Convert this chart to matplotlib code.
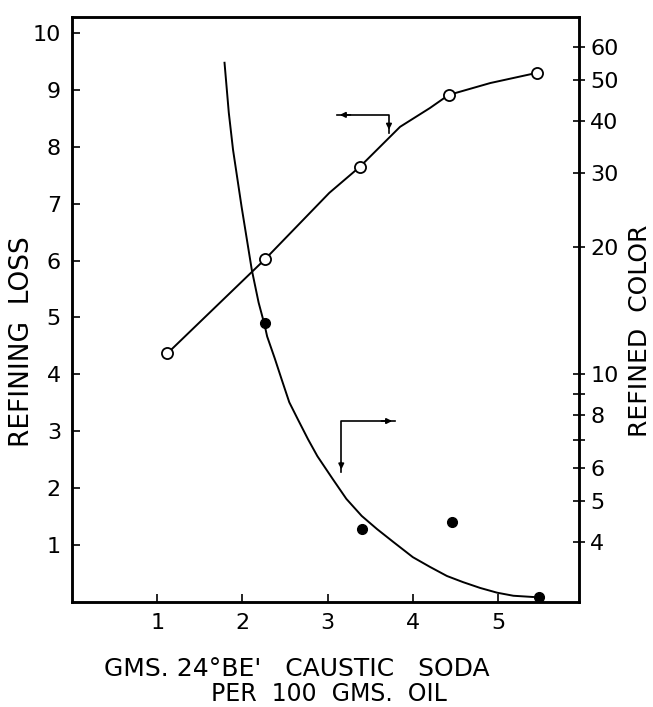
import matplotlib
matplotlib.use('Agg')
import matplotlib.pyplot as plt

# 数据: 精炼损耗 (左轴, 空心圆)
soda_loss = [1.12, 2.27, 3.38, 4.42, 5.46]
refining_loss = [4.37, 6.03, 7.65, 8.91, 9.30]
# 空心圆曲线 (读图得到的点)
loss_curve_x = [1.12, 2.27, 3.02, 3.38, 3.85, 4.20, 4.42, 4.91, 5.46]
loss_curve_y = [4.37, 6.03, 7.19, 7.65, 8.35, 8.68, 8.91, 9.12, 9.30]

# 数据: 精炼色度 (右轴, 实心圆, 对数刻度)
soda_color = [2.26, 3.40, 4.46, 5.48]
refined_color = [13.2, 4.30, 4.46, 2.96]
# 实心圆曲线 (读图得到的点)
color_curve_x = [1.79, 1.84, 1.89, 1.99, 2.11, 2.19, 2.26, 2.29, 2.38,
                 2.46, 2.55, 2.65, 2.77, 2.88, 3.06, 3.22, 3.40, 3.58,
                 3.77, 4.00, 4.20, 4.40, 4.59, 4.79, 4.99, 5.18, 5.41]
color_curve_y = [54.9, 41.8, 34.1, 25.0, 17.7, 14.8, 13.1, 12.3, 10.9,
                 9.73, 8.58, 7.82, 7.01, 6.39, 5.64, 5.06, 4.61, 4.29,
                 4.00, 3.68, 3.49, 3.32, 3.21, 3.11, 3.03, 2.98, 2.96]

# 刻度
x_ticks = [1, 2, 3, 4, 5]
left_ticks = [1, 2, 3, 4, 5, 6, 7, 8, 9, 10]
right_ticks = [4, 5, 6, 7, 8, 9, 10, 20, 30, 40, 50, 60]
right_labels = ['4', '5', '6', '', '8', '', '10', '20', '30', '40', '50', '60']

plt.rcParams['font.family'] = ['DejaVu Sans']

# 1. 创建画布
fig = plt.figure(figsize=(6.53, 7.07), dpi=100)
ax = fig.add_axes([72 / 653, 1 - 602 / 707, (579 - 72) / 653, (602 - 17) / 707])
ax2 = ax.twinx()

# 2. 左轴: 精炼损耗
ax.plot(loss_curve_x, loss_curve_y, color='black', lw=1.4, zorder=2)
ax.plot(soda_loss, refining_loss, 'o', mfc='white', mec='black', mew=1.3,
        ms=8, zorder=3)
ax.set_xlim(0, 5.95)
ax.set_ylim(0, 10.28)
ax.set_xticks(x_ticks)
ax.set_yticks(left_ticks)
ax.tick_params(direction='in', length=6, width=1.2, labelsize=16, pad=8)
for s in ax.spines.values():
    s.set_linewidth(1.8)

# 3. 右轴: 精炼色度 (对数)
ax2.set_yscale('log')
ax2.set_ylim(2.88, 70.5)
ax2.plot(color_curve_x, color_curve_y, color='black', lw=1.4, zorder=2)
ax2.plot(soda_color, refined_color, 'o', color='black', ms=7, zorder=3)
ax2.minorticks_off()
ax2.set_yticks(right_ticks)
ax2.set_yticklabels(right_labels)
ax2.tick_params(axis='y', direction='inout', length=8, width=1.2,
                labelsize=16, pad=4)
for s in ax2.spines.values():
    s.set_linewidth(1.8)

# 4. 指示箭头
arrow_kw = dict(arrowstyle='-|>', color='black', lw=1.2, mutation_scale=8)
ax.plot([3.11, 3.72, 3.72], [8.56, 8.56, 8.25], color='black', lw=1.2)
ax.annotate('', xy=(3.11, 8.56), xytext=(3.3, 8.56), arrowprops=arrow_kw)
ax.annotate('', xy=(3.72, 8.25), xytext=(3.72, 8.45), arrowprops=arrow_kw)
ax.plot([3.16, 3.16, 3.79], [2.28, 3.18, 3.18], color='black', lw=1.2)
ax.annotate('', xy=(3.79, 3.18), xytext=(3.6, 3.18), arrowprops=arrow_kw)
ax.annotate('', xy=(3.16, 2.28), xytext=(3.16, 2.5), arrowprops=arrow_kw)

# 5. 轴标签
fig.text(22 / 653, 1 - 342 / 707, 'REFINING  LOSS', rotation=90,
         ha='center', va='center', fontsize=19)
fig.text(640 / 653, 1 - 331 / 707, 'REFINED  COLOR', rotation=90,
         ha='center', va='center', fontsize=18)
fig.text(297 / 653, 1 - 676 / 707, "GMS. 24°BE'   CAUSTIC   SODA",
         ha='center', va='baseline', fontsize=18)
fig.text(329 / 653, 1 - 701 / 707, 'PER  100  GMS.  OIL',
         ha='center', va='baseline', fontsize=17)

fig.savefig('out.png', dpi=100)
